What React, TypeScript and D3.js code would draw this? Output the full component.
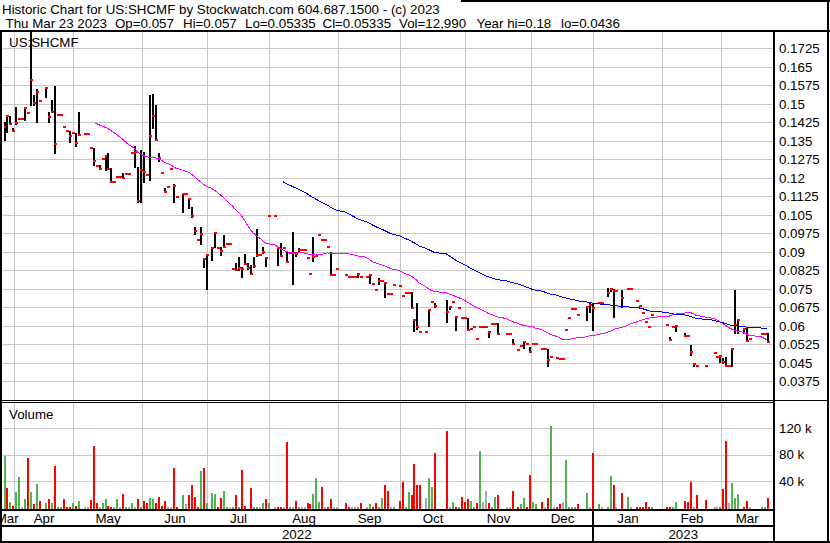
import { useMemo } from "react";
import * as d3 from "d3";

// Daily bars for US:SHCMF, late Mar 2022 to Mar 23 2023 (null = no trade that day)
const closes: (number | null)[] = [
  0.1406, 0.1449, 0.1418, 0.1391, 0.1423, 0.1437, 0.1437, 0.1484, 0.1464, 0.1596,
  0.1504, 0.1549, 0.1511, null, 0.1563, 0.1448, 0.1468, 0.1337, 0.1456, 0.1456,
  0.1405, 0.1391, 0.1371, 0.138, 0.134, 0.1373, null, 0.1377, 0.1377, 0.1322,
  0.1269, 0.1249, 0.1234, 0.1275, 0.1288, 0.1237, 0.1184, 0.1184, 0.1202, 0.1202,
  0.1198, 0.1215, 0.1215, 0.1302, 0.1306, 0.1107, 0.1231, 0.1225, 0.121, 0.1369,
  0.1451, 0.1353, 0.128, 0.1221, 0.1144, 0.1164, 0.1237, 0.1168, 0.1123, null,
  0.1134, 0.1134, 0.1114, 0.1046, 0.0984, 0.0948, 0.0971, 0.0871, 0.0887, null,
  0.0917, 0.0975, 0.0917, 0.0905, 0.0921, 0.0932, 0.0932, 0.0832, 0.0826, 0.0836,
  0.0832, 0.085, 0.0836, 0.0811, 0.0844, 0.0888, 0.0888, 0.0898, 0.0876, 0.1046,
  null, 0.1046, 0.0914, 0.0883, 0.0917, 0.086, 0.0896, 0.0896, 0.0892, 0.0907,
  0.0907, 0.0907, 0.0876, 0.0809, 0.088, 0.0884, 0.0968, 0.0948, 0.0948, 0.0921,
  0.0806, 0.0806, 0.0832, null, null, 0.0806, 0.0799, 0.0799, 0.0799, 0.0809,
  0.0799, null, 0.0799, 0.0806, 0.077, 0.0745, 0.0783, 0.0783, 0.0772, 0.0729,
  0.0729, 0.0766, null, 0.0762, 0.0721, 0.0732, 0.0734, 0.0671, 0.0624, 0.0596,
  0.0576, null, 0.0576, 0.0664, 0.0698, 0.068, null, null, null, 0.0657,
  0.0677, 0.0698, 0.0637, 0.0671, 0.0633, 0.0633, 0.0583, 0.0587, 0.0596, 0.0546,
  0.0596, 0.0596, 0.0596, 0.0576, 0.0607, 0.0607, 0.0567, null, null, 0.0567,
  0.0567, 0.0526, null, 0.0502, 0.0518, 0.0536, 0.0526, 0.0495, 0.0526, 0.0526,
  null, 0.0506, 0.0506, 0.0461, 0.0474, null, 0.047, 0.0467, 0.0467, 0.0583,
  0.0633, 0.0667, 0.0667, 0.0642, null, null, 0.0677, 0.0684, 0.0671, null,
  0.0694, 0.0694, null, 0.0734, 0.0748, 0.0742, 0.0742, null, 0.0711, null,
  0.0748, 0.0748, null, 0.0702, 0.068, 0.0653, 0.0616, 0.0596, 0.0645, null,
  null, null, null, 0.0604, 0.0543, 0.0596, 0.06, null, null, 0.056,
  0.056, 0.0495, 0.0445, 0.0438, null, null, 0.0438, null, null, 0.0489,
  0.0475, 0.0478, 0.0455, 0.0437, 0.0437, 0.0506, 0.0604, 0.0624, null, 0.0586,
  0.0539, 0.0545, null, null, null, 0.0565, 0.0565, 0.05335,
];

const highs: (number | null)[] = [
  0.1427, 0.1449, 0.1449, 0.14, 0.1488, 0.1437, 0.1437, 0.1488, 0.1464, 0.18,
  0.1536, 0.1559, 0.1511, null, 0.1567, 0.1468, 0.1515, 0.1572, 0.1456, 0.1456,
  0.1405, 0.1391, 0.1391, 0.138, 0.138, 0.1467, null, 0.1377, 0.1377, 0.1322,
  0.132, 0.1249, 0.125, 0.1275, 0.129, 0.13, 0.124, 0.1184, 0.1202, 0.1202,
  0.1218, 0.1215, 0.1215, 0.1302, 0.133, 0.1245, 0.1313, 0.1306, 0.1215, 0.1536,
  0.154, 0.1495, 0.13, 0.1221, 0.116, 0.1164, 0.1237, 0.1176, 0.1123, null,
  0.1137, 0.1134, 0.1117, 0.1083, 0.0999, 0.0948, 0.0999, 0.0874, 0.089, null,
  0.0921, 0.0975, 0.0917, 0.0921, 0.0968, 0.0932, 0.0932, 0.0832, 0.0853, 0.0878,
  0.0837, 0.0891, 0.0853, 0.0847, 0.0878, 0.0991, 0.0888, 0.0918, 0.0878, 0.1046,
  null, 0.1046, 0.0917, 0.0934, 0.0917, 0.09, 0.09, 0.098, 0.09, 0.0917,
  0.0907, 0.0907, 0.0876, 0.0809, 0.0961, 0.0884, 0.0968, 0.0948, 0.0948, 0.0921,
  0.0898, 0.0806, 0.0832, null, null, 0.0806, 0.0799, 0.0799, 0.0799, 0.0813,
  0.0799, null, 0.0799, 0.0809, 0.077, 0.0745, 0.0793, 0.0783, 0.0779, 0.0729,
  0.0729, 0.0766, null, 0.0762, 0.0721, 0.0732, 0.0734, 0.0736, 0.0626, 0.0691,
  0.0576, null, 0.0576, 0.0664, 0.0698, 0.0691, null, null, null, 0.0706,
  0.068, 0.0698, 0.0637, 0.0671, 0.0633, 0.0633, 0.0633, 0.0587, 0.0596, 0.0546,
  0.0596, 0.0596, 0.0596, 0.0576, 0.0612, 0.0607, 0.0612, null, null, 0.0567,
  0.0567, 0.0546, null, 0.0502, 0.0518, 0.0536, 0.0526, 0.0515, 0.0526, 0.0526,
  null, 0.0506, 0.0506, 0.0506, 0.0474, null, 0.047, 0.047, 0.0467, 0.0583,
  0.0633, 0.0667, 0.0667, 0.0642, null, null, 0.0677, 0.0691, 0.0691, null,
  0.0694, 0.0694, null, 0.0752, 0.0752, 0.0748, 0.0742, null, 0.0744, null,
  0.0748, 0.0748, null, 0.0702, 0.068, 0.0653, 0.0616, 0.0596, 0.0645, null,
  null, null, null, 0.0604, 0.0555, 0.0596, 0.0604, null, null, 0.057,
  0.056, 0.0522, 0.045, 0.0438, null, null, 0.0438, null, null, 0.0489,
  0.0475, 0.0482, 0.0468, 0.0475, 0.0437, 0.0509, 0.0745, 0.0624, null, 0.059,
  0.0596, 0.0545, null, null, null, 0.0565, 0.0565, 0.057,
];

const lows: (number | null)[] = [
  0.1353, 0.1386, 0.1418, 0.1391, 0.1418, 0.1437, 0.1437, 0.1434, 0.1464, 0.1495,
  0.1495, 0.1427, 0.1511, null, 0.1529, 0.1427, 0.1468, 0.1299, 0.1456, 0.1456,
  0.1405, 0.1391, 0.1346, 0.138, 0.133, 0.1373, null, 0.1377, 0.1377, 0.1322,
  0.1252, 0.1249, 0.1234, 0.1275, 0.1232, 0.1237, 0.1184, 0.1184, 0.1202, 0.1202,
  0.1198, 0.1215, 0.1215, 0.1302, 0.1245, 0.1103, 0.1101, 0.1184, 0.121, 0.1191,
  0.1401, 0.1353, 0.127, 0.1221, 0.1144, 0.1164, 0.1237, 0.1103, 0.1123, null,
  0.1063, 0.1134, 0.1076, 0.1042, 0.0971, 0.0948, 0.0932, 0.084, 0.0748, null,
  0.0866, 0.0918, 0.0917, 0.0887, 0.0921, 0.0932, 0.0932, 0.0832, 0.0826, 0.0826,
  0.0799, 0.085, 0.0829, 0.081, 0.0837, 0.0884, 0.0888, 0.0894, 0.0844, 0.1046,
  null, 0.1046, 0.0847, 0.0883, 0.0917, 0.086, 0.0896, 0.0768, 0.0885, 0.09,
  0.0907, 0.0907, 0.0876, 0.0809, 0.0864, 0.0884, 0.0968, 0.0948, 0.0948, 0.0921,
  0.0806, 0.0806, 0.0832, null, null, 0.0806, 0.0799, 0.0799, 0.0799, 0.0799,
  0.0799, null, 0.0799, 0.0775, 0.077, 0.0745, 0.077, 0.0783, 0.0718, 0.0729,
  0.0729, 0.0766, null, 0.0762, 0.0721, 0.0732, 0.0734, 0.0671, 0.058, 0.0586,
  0.0576, null, 0.0576, 0.06, 0.0698, 0.0677, null, null, null, 0.0617,
  0.067, 0.0698, 0.0583, 0.0671, 0.0633, 0.0633, 0.0583, 0.0587, 0.0596, 0.0546,
  0.0596, 0.0596, 0.0596, 0.0553, 0.0607, 0.0607, 0.0567, null, null, 0.0567,
  0.0567, 0.0526, null, 0.0502, 0.0518, 0.0509, 0.0526, 0.0495, 0.0526, 0.0526,
  null, 0.0506, 0.0506, 0.0437, 0.0474, null, 0.047, 0.0465, 0.0467, 0.0583,
  0.0633, 0.0667, 0.0667, 0.0642, null, null, 0.0625, 0.0657, 0.0583, null,
  0.0694, 0.0694, null, 0.0721, 0.074, 0.0637, 0.0742, null, 0.0675, null,
  0.0748, 0.0748, null, 0.0702, 0.068, 0.0653, 0.0616, 0.0596, 0.0645, null,
  null, null, null, 0.0604, 0.0543, 0.0596, 0.058, null, null, 0.0559,
  0.056, 0.0481, 0.0437, 0.0438, null, null, 0.0438, null, null, 0.0489,
  0.0475, 0.0455, 0.0448, 0.0437, 0.0437, 0.0437, 0.057, 0.057, null, 0.057,
  0.0539, 0.0545, null, null, null, 0.0565, 0.0565, 0.05335,
];

// volume in thousands of shares
const volumes: number[] = [
  78, 29, 8, 2, 23, 46, 0.5, 13.5, 75, 23,
  5, 35, 9.5, 0, 6.5, 13.5, 7.5, 63, 0.5, 0.5,
  13.5, 0.5, 1, 6.5, 2, 9.5, 0, 0.5, 0.5, 11.5,
  93.5, 7.5, 0.5, 7.5, 13.5, 2, 1, 0.5, 12.5, 0.5,
  20, 1, 0.5, 7.5, 0.5, 13.5, 1, 9.5, 7.5, 14,
  13.5, 7.5, 15.5, 2, 9.5, 0.5, 0.5, 60, 0.5, 0,
  18.5, 5, 18.5, 34.5, 16.5, 0.5, 55, 60, 7.5, 0,
  21.5, 20.5, 0.5, 14.5, 25.5, 1, 0.5, 1, 18.5, 1,
  57, 2, 0, 29.5, 1, 1, 0.5, 7.5, 13.5, 7.5,
  0, 0.5, 1, 0.5, 0.5, 100, 0.5, 1, 10.5, 1,
  0.5, 0.5, 7.5, 5, 20.5, 45, 8.5, 31.5, 0.5, 1,
  12.5, 0.5, 0.5, 0, 0, 7.5, 0.5, 0.5, 0.5, 1,
  7.5, 0, 0.5, 5, 0.5, 7.5, 1, 14.5, 34.5, 25.5,
  0.5, 0.5, 0, 9.5, 38.5, 0.5, 23.5, 18.5, 66, 34.5,
  34.5, 0, 14.5, 45, 30.5, 83, 0, 0, 0, 116.5,
  0.5, 8.5, 1, 0.5, 15.5, 8.5, 12.5, 10.5, 1, 7.5,
  86, 8.5, 25.5, 6.5, 0.5, 15.5, 18.5, 0, 0, 1,
  0.5, 25.5, 0, 0.5, 5, 14.5, 0.5, 49, 8.5, 5,
  0, 8.5, 0.5, 14.5, 123.5, 0.5, 1, 5, 8.5, 72,
  0.5, 1, 0.5, 5, 0, 0, 21.5, 0.5, 83, 0,
  5, 0.5, 0, 1, 48, 34.5, 1, 0, 21.5, 0,
  15.5, 0.5, 0, 1, 0.5, 0.5, 8.5, 0.5, 0.5, 0,
  0, 0, 0, 1, 1, 0.5, 8.5, 0, 0, 10.5,
  8.5, 38.5, 0.5, 18.5, 0, 0, 12, 0, 0, 0.5,
  0.5, 0.5, 27.5, 101, 7.5, 37.5, 14.5, 20.5, 0, 0.5,
  10.5, 0.5, 0, 0, 0, 0.5, 0.5, 14.5,
];

// day's move as coloured on the volume bars: g up, r down, n unchanged, - no trade
const volumeMoves = (
  "grgrggngrg" + "rgr-grgrgg" + "rrrgrg-nnr" + "rrnggrrngn" + "rgngnrgrrg" +
  "grrrrnnrr-" + "gnrrrrgrg-" + "ggrrggngrg" + "rr-rggngrg" + "-nrrnrgnrg" +
  "nnrrgggrnr" + "rnn--rrnng" + "r-ngrrggrr" + "ng-rrggrrr" + "r-nggr---r" +
  "ngrgrrrggr" + "gnnrggr--n" + "nr-rggrrgg" + "-rnrgnrrng" + "gggr--gnr-" +
  "gn-ggrn-r-" + "gn-rrrrrg-" + "---rrgg--r" + "rrnr--r--n" + "ngrrnggg-r" +
  "rn---ggr"
).split("");

const monthLabels = ["Mar", "Apr", "May", "Jun", "Jul", "Aug", "Sep", "Oct", "Nov", "Dec", "Jan", "Feb", "Mar"];
const monthStarts = [0, 4, 24, 47, 69, 90, 113, 134, 156, 178, 199, 222, 242];
const yearLabels = ["2022", "2023"];
const yearStarts = [0, 199];

const priceTicks = [
  0.0375, 0.045, 0.0525, 0.06, 0.0675, 0.075, 0.0825, 0.09, 0.0975, 0.105,
  0.1125, 0.12, 0.1275, 0.135, 0.1425, 0.15, 0.1575, 0.165, 0.1725,
];
const volumeTicks = [40, 80, 120];

const titleText = "Historic Chart for US:SHCMF by Stockwatch.com 604.687.1500 - (c) 2023";
const quoteFields = ["Thu Mar 23 2023", "Op=0.057", "Hi=0.057", "Lo=0.05335", "Cl=0.05335", "Vol=12,990", "Year hi=0.18", "lo=0.0436"];
const quoteX = [5.5, 115, 183, 245, 322.5, 399, 476.5, 561];

const shortPeriod = 30;
const longPeriod = 90;

const width = 830;
const height = 543;
const plotRight = 773;
const pricePane = { top: 32, bottom: 400 };
const volPane = { top: 403, bottom: 509 };
const font = "Arial, 'Liberation Sans', sans-serif";
const gridColor = "#c8c8c8";
const moveColor: Record<string, string> = { g: "#4fb44f", r: "#ff0000", n: "#a8a8a8" };

// simple moving average over trading days only
const movingAverage = (values: (number | null)[], period: number) => {
  const out: [number, number][] = [];
  const win: number[] = [];
  values.forEach((v, i) => {
    if (v == null) return;
    win.push(v);
    if (win.length > period) win.shift();
    if (win.length === period) out.push([i, d3.mean(win) as number]);
  });
  return out;
};

export default function App() {
  const x = useMemo(
    () => d3.scaleLinear().domain([0, closes.length - 1]).range([3.5, 767]),
    []
  );
  const y = useMemo(() => d3.scaleLinear().domain([0.0375, 0.1725]).range([381.3, 48.3]), []);
  const yVol = useMemo(() => d3.scaleLinear().domain([0, 120]).range([507.5, 428.3]), []);

  const px = (i: number) => Math.round(x(i));
  const gridX = (i: number) => Math.round(x(i - 0.5)) + 0.5;

  const maLine = d3
    .line<[number, number]>()
    .x((d) => x(d[0]))
    .y((d) => y(d[1]));
  const shortPath = maLine(movingAverage(closes, shortPeriod)) ?? undefined;
  const longPath = maLine(movingAverage(closes, longPeriod)) ?? undefined;

  const segment = (starts: number[], k: number) => {
    const left = k === 0 ? 0 : gridX(starts[k]);
    const right = k === starts.length - 1 ? plotRight : gridX(starts[k + 1]);
    return (left + right) / 2;
  };

  const monthGrid = monthStarts.slice(1).map(gridX);

  return (
    <svg
      width={width}
      height={height}
      viewBox={`0 0 ${width} ${height}`}
      style={{ position: "absolute", left: 0, top: 0, display: "block", background: "#fff" }}
      fontFamily={font}
      fontSize={13.33}
    >
      <defs>
        <clipPath id="priceClip">
          <rect x={2} y={pricePane.top} width={plotRight - 2} height={pricePane.bottom - pricePane.top} />
        </clipPath>
        <clipPath id="volClip">
          <rect x={2} y={volPane.top} width={plotRight - 2} height={volPane.bottom - volPane.top} />
        </clipPath>
      </defs>
      <rect width={width} height={height} fill="#fff" />

      {/* title block */}
      <text x={2} y={13.5}>{titleText}</text>
      {quoteFields.map((f, k) => (
        <text key={f} x={quoteX[k]} y={27.5}>{f}</text>
      ))}

      {/* grid */}
      {priceTicks.map((t) => (
        <line key={t} x1={2} x2={plotRight} y1={Math.round(y(t)) + 0.5} y2={Math.round(y(t)) + 0.5} stroke={gridColor} />
      ))}
      {volumeTicks.map((t) => (
        <line key={t} x1={2} x2={plotRight} y1={Math.round(yVol(t)) + 0.5} y2={Math.round(yVol(t)) + 0.5} stroke={gridColor} />
      ))}
      {monthGrid.map((gx) => (
        <g key={gx}>
          <line x1={gx} x2={gx} y1={pricePane.top} y2={pricePane.bottom} stroke={gridColor} />
          <line x1={gx} x2={gx} y1={volPane.top} y2={volPane.bottom} stroke={gridColor} />
        </g>
      ))}

      <text x={9} y={46.5}>US:SHCMF</text>
      <text x={9} y={418.5}>Volume</text>

      {/* price bars */}
      <g clipPath="url(#priceClip)">
        {closes.map((c, i) => {
          const h = highs[i];
          const l = lows[i];
          if (c == null || h == null || l == null) return null;
          const yh = Math.round(y(h));
          const yl = Math.round(y(l));
          return (
            <g key={i}>
              {yl > yh && <rect x={px(i)} y={yh} width={2} height={yl - yh + 1} fill="#000" />}
              <rect x={px(i)} y={Math.round(y(c)) - 1} width={3} height={2} fill="#ff0000" />
            </g>
          );
        })}
        <path d={shortPath} fill="none" stroke="#ff00ff" strokeWidth={1} shapeRendering="crispEdges" />
        <path d={longPath} fill="none" stroke="#0000ff" strokeWidth={1} shapeRendering="crispEdges" />
      </g>

      {/* volume bars */}
      <g clipPath="url(#volClip)">
        {volumes.map((v, i) => {
          const m = volumeMoves[i];
          if (v <= 0 || m === "-") return null;
          const top = Math.round(yVol(v));
          return <rect key={i} x={px(i)} y={top} width={2} height={volPane.bottom - top} fill={moveColor[m]} />;
        })}
      </g>

      {/* right axis labels */}
      {priceTicks.map((t) => (
        <text key={t} x={779} y={y(t) + 4.7}>{String(+t.toFixed(4))}</text>
      ))}
      {volumeTicks.map((t) => (
        <text key={t} x={779} y={yVol(t) + 4.7}>{`${t} k`}</text>
      ))}

      {/* time axis */}
      {monthLabels.map((m, k) => (
        <text key={k} x={segment(monthStarts, k)} y={523} textAnchor="middle">{m}</text>
      ))}
      {yearLabels.map((yl, k) => (
        <text key={yl} x={segment(yearStarts, k)} y={539} textAnchor="middle">{yl}</text>
      ))}

      {/* frame */}
      <g fill="#000">
        <rect x={461} y={0} width={width - 461} height={2} />
        <rect x={0} y={30} width={2} height={height - 30} />
        <rect x={827} y={0} width={2} height={height} />
        <rect x={0} y={541} width={width} height={2} />
        <rect x={0} y={30} width={width} height={2} />
        <rect x={plotRight} y={30} width={2} height={height - 30} />
        <rect x={0} y={400} width={width - 1} height={1} />
        <rect x={0} y={402} width={plotRight} height={1} />
        <rect x={0} y={509} width={plotRight} height={2} />
        <rect x={0} y={525} width={plotRight} height={2} />
        <rect x={Math.floor(gridX(yearStarts[1])) - 1} y={509} width={2} height={32} />
      </g>
    </svg>
  );
}
